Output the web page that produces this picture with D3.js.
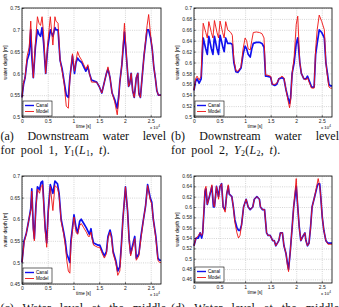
<!DOCTYPE html>
<html>
<head>
<meta charset="utf-8">
<script src="https://cdn.jsdelivr.net/npm/d3@7"></script>
<style>
  body { margin: 0; background: #fff; }
  svg { display: block; }
  .tick text { font-family: "Liberation Sans", Arial, sans-serif; font-size: 5px; fill: #222; }
  .caption { font-family: "Liberation Serif", "Times New Roman", serif; font-size: 12px; fill: #111; }
</style>
</head>
<body>
<svg width="339" height="307"></svg>
<script>
// time in units of 1e4 s
const xTicks = [0, 0.5, 1, 1.5, 2, 2.5];

// (a) downstream pool 1
const timeA = [0.00,0.03,0.06,0.10,0.14,0.17,0.19,0.22,0.26,0.30,
  0.33,0.36,0.39,0.42,0.46,0.50,0.55,0.60,0.64,0.66,
  0.70,0.74,0.78,0.82,0.86,0.90,0.93,0.98,1.02,1.05,
  1.08,1.11,1.16,1.20,1.24,1.28,1.31,1.35,1.45,1.50,
  1.55,1.59,1.64,1.67,1.71,1.75,1.80,1.85,1.88,1.90,
  1.94,1.99,2.04,2.07,2.09,2.12,2.15,2.18,2.22,2.25,
  2.27,2.30,2.34,2.37,2.40,2.43,2.46,2.50,2.53,2.56,
  2.59,2.62,2.65,2.70];
const canalA = [0.545,0.575,0.59,0.63,0.645,0.70,0.64,0.59,0.66,0.70,
  0.69,0.685,0.705,0.67,0.60,0.66,0.70,0.685,0.705,0.70,
  0.70,0.63,0.61,0.58,0.55,0.545,0.59,0.64,0.60,0.625,
  0.635,0.63,0.625,0.615,0.605,0.615,0.60,0.585,0.58,0.57,
  0.555,0.575,0.60,0.61,0.59,0.555,0.54,0.52,0.55,0.58,
  0.62,0.695,0.62,0.57,0.575,0.60,0.56,0.545,0.59,0.60,
  0.555,0.545,0.60,0.64,0.67,0.70,0.70,0.68,0.655,0.615,
  0.59,0.56,0.55,0.55];
const modelA = [0.545,0.58,0.59,0.64,0.66,0.72,0.66,0.59,0.67,0.73,
  0.715,0.71,0.73,0.69,0.60,0.67,0.73,0.665,0.73,0.72,
  0.715,0.63,0.605,0.575,0.525,0.52,0.585,0.645,0.605,0.63,
  0.65,0.64,0.63,0.62,0.61,0.62,0.60,0.58,0.58,0.57,
  0.555,0.575,0.60,0.615,0.59,0.555,0.535,0.505,0.54,0.58,
  0.62,0.715,0.62,0.57,0.575,0.60,0.56,0.545,0.59,0.60,
  0.55,0.545,0.60,0.64,0.675,0.71,0.735,0.685,0.655,0.615,
  0.59,0.56,0.55,0.55];
const yTicksA = [0.5, 0.55, 0.6, 0.65, 0.7, 0.75];

// (b) downstream pool 2
const timeB = [0.00,0.03,0.06,0.10,0.14,0.155,0.18,0.23,0.26,0.29,
  0.34,0.37,0.40,0.45,0.48,0.51,0.56,0.59,0.62,0.66,
  0.72,0.75,0.78,0.82,0.86,0.92,0.96,1.00,1.03,1.06,
  1.10,1.13,1.16,1.22,1.28,1.33,1.37,1.40,1.43,1.50,
  1.53,1.58,1.62,1.66,1.72,1.76,1.80,1.84,1.87,1.89,
  1.92,1.96,2.00,2.03,2.07,2.10,2.15,2.19,2.22,2.26,
  2.30,2.35,2.38,2.41,2.45,2.50,2.55,2.58,2.61,2.64,
  2.67,2.70];
const canalB = [0.549,0.565,0.57,0.562,0.57,0.60,0.645,0.625,0.615,0.648,
  0.625,0.615,0.648,0.625,0.615,0.65,0.63,0.62,0.645,0.635,
  0.635,0.633,0.60,0.583,0.582,0.59,0.615,0.63,0.625,0.615,
  0.61,0.625,0.635,0.637,0.637,0.635,0.628,0.575,0.575,0.573,
  0.56,0.558,0.56,0.57,0.572,0.57,0.55,0.535,0.525,0.535,
  0.58,0.60,0.635,0.645,0.60,0.58,0.57,0.57,0.575,0.565,
  0.555,0.555,0.615,0.635,0.66,0.655,0.645,0.60,0.58,0.56,
  0.557,0.557];
const modelB = [0.549,0.57,0.575,0.568,0.575,0.62,0.672,0.655,0.645,0.675,
  0.655,0.645,0.677,0.655,0.645,0.676,0.655,0.645,0.675,0.66,
  0.655,0.65,0.605,0.585,0.584,0.592,0.625,0.645,0.64,0.625,
  0.623,0.64,0.655,0.656,0.655,0.653,0.645,0.577,0.577,0.575,
  0.56,0.56,0.562,0.57,0.575,0.572,0.55,0.53,0.517,0.53,
  0.58,0.61,0.67,0.685,0.60,0.58,0.57,0.568,0.572,0.562,
  0.553,0.553,0.625,0.66,0.687,0.675,0.66,0.60,0.575,0.555,
  0.553,0.553];
const yTicksB = [0.5, 0.52, 0.54, 0.56, 0.58, 0.6, 0.62, 0.64, 0.66, 0.68, 0.7];

// (c) middle of pool 1
const timeC = [0.00,0.04,0.08,0.12,0.15,0.17,0.19,0.22,0.24,0.27,
  0.30,0.34,0.37,0.40,0.45,0.48,0.51,0.55,0.60,0.64,
  0.69,0.72,0.76,0.81,0.84,0.87,0.90,0.93,0.95,0.99,
  1.01,1.05,1.08,1.12,1.15,1.20,1.25,1.29,1.31,1.34,
  1.36,1.39,1.47,1.51,1.56,1.60,1.64,1.67,1.71,1.74,
  1.77,1.82,1.86,1.90,1.93,1.96,2.01,2.05,2.08,2.11,
  2.16,2.19,2.22,2.27,2.31,2.36,2.40,2.44,2.49,2.52,
  2.55,2.60,2.64,2.67,2.70];
const canalC = [0.50,0.55,0.565,0.59,0.61,0.625,0.67,0.58,0.555,0.63,
  0.675,0.668,0.685,0.688,0.58,0.545,0.62,0.68,0.66,0.688,
  0.682,0.66,0.60,0.57,0.55,0.52,0.51,0.50,0.55,0.59,
  0.61,0.58,0.568,0.595,0.60,0.59,0.58,0.57,0.565,0.578,
  0.56,0.545,0.54,0.54,0.525,0.515,0.525,0.56,0.575,0.56,
  0.525,0.505,0.48,0.49,0.54,0.60,0.675,0.62,0.555,0.52,
  0.545,0.56,0.51,0.52,0.56,0.60,0.63,0.68,0.65,0.64,
  0.60,0.56,0.51,0.505,0.505];
const modelC = [0.50,0.545,0.565,0.59,0.61,0.62,0.665,0.575,0.55,0.625,
  0.67,0.66,0.675,0.68,0.575,0.535,0.615,0.675,0.62,0.678,
  0.672,0.655,0.595,0.565,0.54,0.505,0.48,0.475,0.54,0.585,
  0.605,0.57,0.565,0.585,0.59,0.58,0.57,0.56,0.56,0.57,
  0.555,0.54,0.535,0.535,0.52,0.51,0.52,0.555,0.57,0.555,
  0.52,0.50,0.47,0.48,0.535,0.60,0.675,0.62,0.55,0.515,
  0.54,0.555,0.505,0.515,0.555,0.60,0.63,0.678,0.645,0.635,
  0.60,0.555,0.505,0.50,0.50];
const yTicksC = [0.45, 0.5, 0.55, 0.6, 0.65, 0.7];

// (d) middle of pool 2
const timeD = [0.00,0.04,0.085,0.12,0.15,0.17,0.20,0.215,0.235,0.26,
  0.30,0.35,0.38,0.40,0.44,0.48,0.51,0.54,0.57,0.61,
  0.64,0.67,0.69,0.74,0.77,0.80,0.84,0.87,0.90,0.93,
  0.97,1.02,1.06,1.10,1.15,1.18,1.23,1.28,1.30,1.34,
  1.38,1.42,1.45,1.49,1.54,1.57,1.60,1.66,1.69,1.73,
  1.76,1.80,1.83,1.85,1.88,1.92,1.95,2.00,2.03,2.06,
  2.09,2.14,2.17,2.19,2.22,2.25,2.28,2.31,2.36,2.41,
  2.43,2.46,2.48,2.51,2.54,2.58,2.62,2.66,2.70];
const canalD = [0.525,0.54,0.54,0.55,0.54,0.55,0.60,0.63,0.635,0.605,
  0.62,0.64,0.60,0.60,0.64,0.62,0.64,0.645,0.60,0.595,
  0.625,0.64,0.625,0.62,0.60,0.575,0.56,0.555,0.555,0.565,
  0.60,0.615,0.60,0.595,0.60,0.615,0.62,0.615,0.60,0.595,
  0.595,0.55,0.545,0.545,0.535,0.535,0.525,0.535,0.55,0.55,
  0.525,0.51,0.49,0.48,0.51,0.56,0.60,0.64,0.60,0.56,
  0.535,0.545,0.55,0.535,0.525,0.53,0.56,0.60,0.62,0.64,
  0.645,0.645,0.62,0.58,0.555,0.535,0.53,0.53,0.53];
const modelD = [0.525,0.54,0.545,0.55,0.545,0.55,0.605,0.635,0.64,0.605,
  0.62,0.643,0.605,0.60,0.64,0.615,0.64,0.645,0.60,0.59,
  0.625,0.643,0.625,0.62,0.60,0.57,0.55,0.54,0.545,0.565,
  0.60,0.615,0.60,0.595,0.60,0.615,0.62,0.615,0.60,0.595,
  0.595,0.55,0.545,0.545,0.535,0.535,0.525,0.535,0.55,0.55,
  0.525,0.51,0.485,0.475,0.51,0.56,0.60,0.655,0.60,0.56,
  0.535,0.545,0.55,0.535,0.525,0.53,0.56,0.60,0.62,0.645,
  0.655,0.64,0.62,0.58,0.555,0.535,0.528,0.528,0.528];
const yTicksD = [0.46, 0.48, 0.5, 0.52, 0.54, 0.56, 0.58, 0.6, 0.62, 0.64, 0.66];

const seriesNames = ["Canal", "Model"];
const seriesColors = ["#1010ee", "#ee1111"];

const svg = d3.select("svg");

const panels = [
  { left: 22, top: 8, right: 161, bottom: 117, yDomain: [0.5, 0.75], yTicks: yTicksA, time: timeA, canal: canalA, model: modelA },
  { left: 194, top: 8, right: 332, bottom: 117, yDomain: [0.5, 0.7], yTicks: yTicksB, time: timeB, canal: canalB, model: modelB },
  { left: 22, top: 176, right: 161, bottom: 284, yDomain: [0.45, 0.7], yTicks: yTicksC, time: timeC, canal: canalC, model: modelC },
  { left: 194, top: 176, right: 332, bottom: 283, yDomain: [0.453, 0.66], yTicks: yTicksD, time: timeD, canal: canalD, model: modelD }
];

panels.forEach(drawPanel);

function drawPanel(p) {
  const w = p.right - p.left, h = p.bottom - p.top;
  const x = d3.scaleLinear().domain([0, 2.7]).range([0, w]);
  const y = d3.scaleLinear().domain(p.yDomain).range([h, 0]);
  const fmt = d => String(+d.toFixed(3));

  const g = svg.append("g").attr("transform", "translate(" + p.left + "," + p.top + ")");

  // dotted grid (matlab "grid on")
  g.append("g")
    .attr("transform", "translate(0," + h + ")")
    .call(d3.axisBottom(x).tickValues(xTicks).tickSize(-h).tickFormat(""))
    .call(a => a.select(".domain").remove())
    .selectAll("line").attr("stroke", "#aaa").attr("stroke-width", 0.5).attr("stroke-dasharray", "1,1.2");
  g.append("g")
    .call(d3.axisLeft(y).tickValues(p.yTicks).tickSize(-w).tickFormat(""))
    .call(a => a.select(".domain").remove())
    .selectAll("line").attr("stroke", "#aaa").attr("stroke-width", 0.5).attr("stroke-dasharray", "1,1.2");

  // lines
  const line = d3.line().x(d => x(d[0])).y(d => y(d[1]));
  g.append("path")
    .datum(p.time.map((t, i) => [t, p.canal[i]]))
    .attr("fill", "none").attr("stroke", seriesColors[0]).attr("stroke-width", 1.7)
    .attr("stroke-linejoin", "round")
    .attr("d", line);
  g.append("path")
    .datum(p.time.map((t, i) => [t, p.model[i]]))
    .attr("fill", "none").attr("stroke", seriesColors[1]).attr("stroke-width", 0.9)
    .attr("stroke-linejoin", "round")
    .attr("d", line);

  // axes with inward ticks
  const xa = g.append("g")
    .attr("transform", "translate(0," + h + ")")
    .call(d3.axisBottom(x).tickValues(xTicks).tickFormat(fmt).tickSizeInner(-2).tickSizeOuter(0).tickPadding(2));
  xa.select(".domain").remove();
  xa.selectAll("line").attr("stroke-width", 0.5);
  const ya = g.append("g")
    .call(d3.axisLeft(y).tickValues(p.yTicks).tickFormat(fmt).tickSizeInner(-2).tickSizeOuter(0).tickPadding(2));
  ya.select(".domain").remove();
  ya.selectAll("line").attr("stroke-width", 0.5);

  // box
  g.append("rect")
    .attr("width", w).attr("height", h)
    .attr("fill", "none").attr("stroke", "#000").attr("stroke-width", 0.8);

  // axis labels
  g.append("text")
    .attr("x", w / 2 - 8).attr("y", h + 11)
    .attr("text-anchor", "middle")
    .style("font", "4.6px 'Liberation Sans', Arial, sans-serif")
    .text("time [s]");
  const exp = g.append("text")
    .attr("x", w - 11).attr("y", h + 11.5)
    .style("font", "4.3px 'Liberation Sans', Arial, sans-serif");
  exp.append("tspan").text("x 10");
  exp.append("tspan").attr("dy", -1.8).style("font-size", "3px").text("4");
  g.append("text")
    .attr("transform", "translate(" + (-15) + "," + (h / 2) + ") rotate(-90)")
    .attr("text-anchor", "middle")
    .style("font", "5px 'Liberation Sans', Arial, sans-serif")
    .text("water depth [m]");

  // legend
  const lg = g.append("g").attr("transform", "translate(1," + (h - 16) + ")");
  lg.append("rect").attr("width", 29).attr("height", 15)
    .attr("fill", "#fff").attr("stroke", "#000").attr("stroke-width", 0.6);
  seriesNames.forEach((name, i) => {
    lg.append("line")
      .attr("x1", 2).attr("x2", 11).attr("y1", 4.5 + i * 6).attr("y2", 4.5 + i * 6)
      .attr("stroke", seriesColors[i]).attr("stroke-width", i === 0 ? 1.4 : 0.9);
    lg.append("text")
      .attr("x", 13).attr("y", 6.2 + i * 6)
      .style("font", "4.6px 'Liberation Sans', Arial, sans-serif")
      .text(name);
  });
}

// captions (justified first lines)
const captionWords = [
  { words: ["(a)", "Downstream", "water", "level"], x0: 0.5, x1: 166, y: 139.5 },
  { words: ["(b)", "Downstream", "water", "level"], x0: 171, x1: 339, y: 139.5 },
  { words: ["(c)", "Water", "level", "at", "the", "middle"], x0: 0.5, x1: 166, y: 312 },
  { words: ["(d)", "Water", "level", "at", "the", "middle"], x0: 171, x1: 339, y: 312 }
];
captionWords.forEach(c => {
  const nodes = c.words.map(wd => svg.append("text").attr("class", "caption").attr("y", c.y).text(wd));
  const widths = nodes.map(n => n.node().getComputedTextLength());
  const gap = (c.x1 - c.x0 - d3.sum(widths)) / (nodes.length - 1);
  let cx = c.x0;
  nodes.forEach((n, i) => { n.attr("x", cx); cx += widths[i] + gap; });
});

function mathLine(x, yPos, pool) {
  const t = svg.append("text").attr("class", "caption").attr("x", x).attr("y", yPos)
    .style("word-spacing", "2px").style("letter-spacing", "0.3px");
  t.append("tspan").text("for pool " + pool + ", ");
  t.append("tspan").style("font-style", "italic").text("Y");
  t.append("tspan").attr("dy", 2).style("font-size", "8px").text(pool);
  t.append("tspan").attr("dy", -2).text("(");
  t.append("tspan").style("font-style", "italic").text("L");
  t.append("tspan").attr("dy", 2).style("font-size", "8px").text(pool);
  t.append("tspan").attr("dy", -2).text(", ");
  t.append("tspan").style("font-style", "italic").text("t");
  t.append("tspan").text(").");
}
mathLine(0.5, 153.5, "1");
mathLine(171, 153.5, "2");
</script>
</body>
</html>
